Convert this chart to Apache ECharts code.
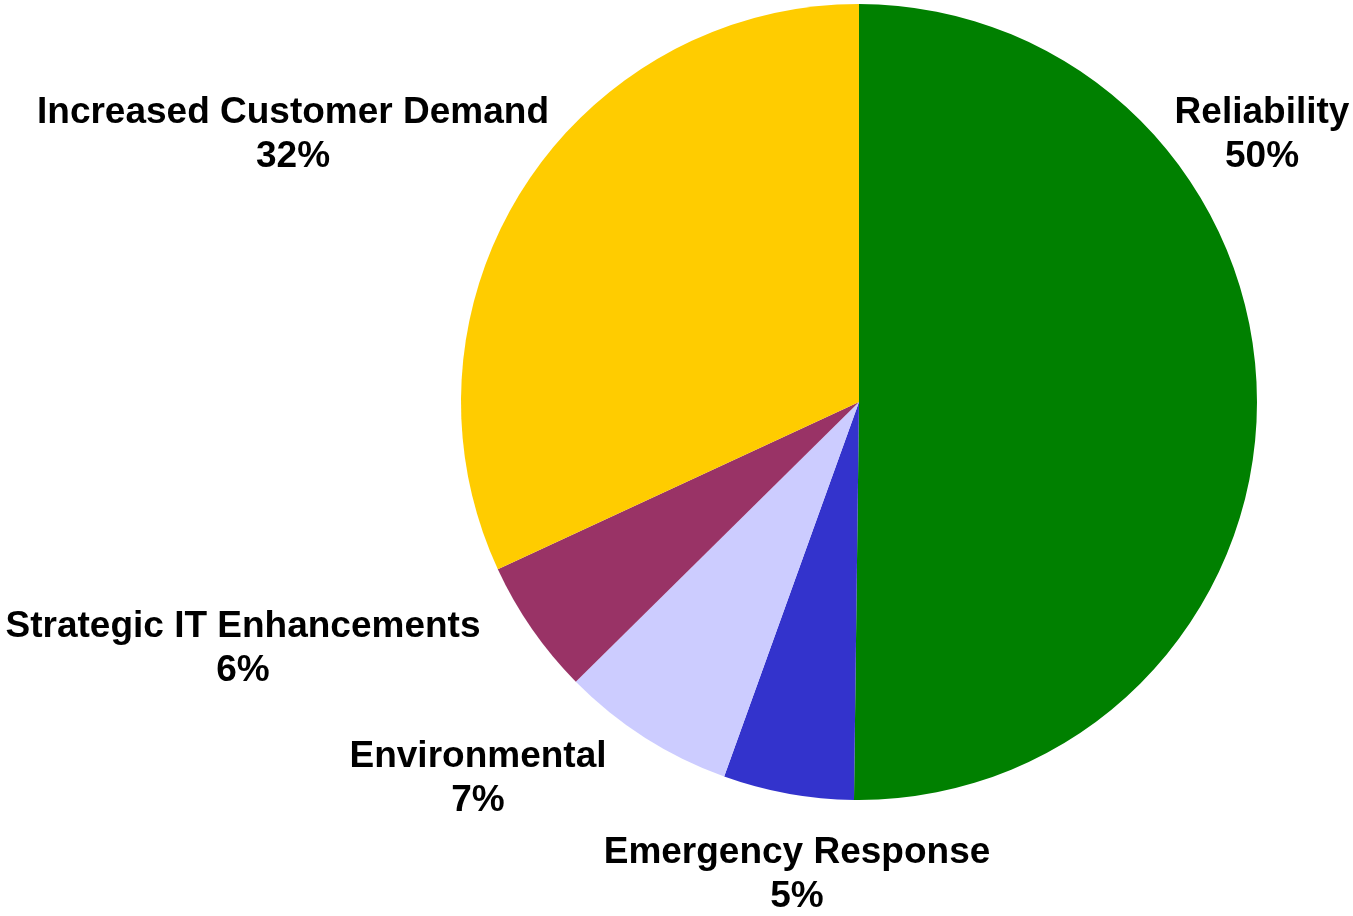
<!DOCTYPE html>
<html>
<head>
<meta charset="utf-8">
<script src="https://cdn.jsdelivr.net/npm/echarts@6/dist/echarts.min.js"></script>
<style>
  html, body { margin: 0; padding: 0; background: #fff; }
  #chart { width: 1353px; height: 916px; }
</style>
</head>
<body>
<div id="chart"></div>
<script>
// slices, clockwise from 12 o'clock
const categories = ['Reliability', 'Emergency Response', 'Environmental', 'Strategic IT Enhancements', 'Increased Customer Demand']
const values = [50.2, 5.3, 7.1, 5.5, 31.9]
const colors = ['#008000', '#3333CC', '#CCCCFF', '#993366', '#FFCC00']

// where each label block sits (centre of the two lines)
const labelPos = [[1262, 135], [797, 875], [478, 779], [243, 649], [293, 135]]

const chart = echarts.init(document.getElementById('chart'))

chart.setOption({
  backgroundColor: '#ffffff',
  animation: false,
  series: [
    {
      type: 'pie',
      center: [859, 402],
      radius: [0, 398],
      startAngle: 90,
      clockwise: true,
      data: categories.map((name, i) => ({
        name: name,
        value: values[i],
        itemStyle: { color: colors[i] }
      })),
      itemStyle: { borderWidth: 0 },
      label: {
        show: true,
        position: 'outside',
        overflow: 'none',
        formatter: p => p.name + '\n' + Math.round(p.percent) + '%',
        fontFamily: 'Liberation Sans, Arial, sans-serif',
        fontWeight: 'bold',
        fontSize: 37,
        lineHeight: 44,
        color: '#000',
        align: 'center'
      },
      labelLine: { show: false },
      labelLayout: params => ({
        x: labelPos[params.dataIndex][0],
        y: labelPos[params.dataIndex][1],
        align: 'center',
        verticalAlign: 'middle'
      }),
      emphasis: { disabled: true }
    }
  ]
})
</script>
</body>
</html>
